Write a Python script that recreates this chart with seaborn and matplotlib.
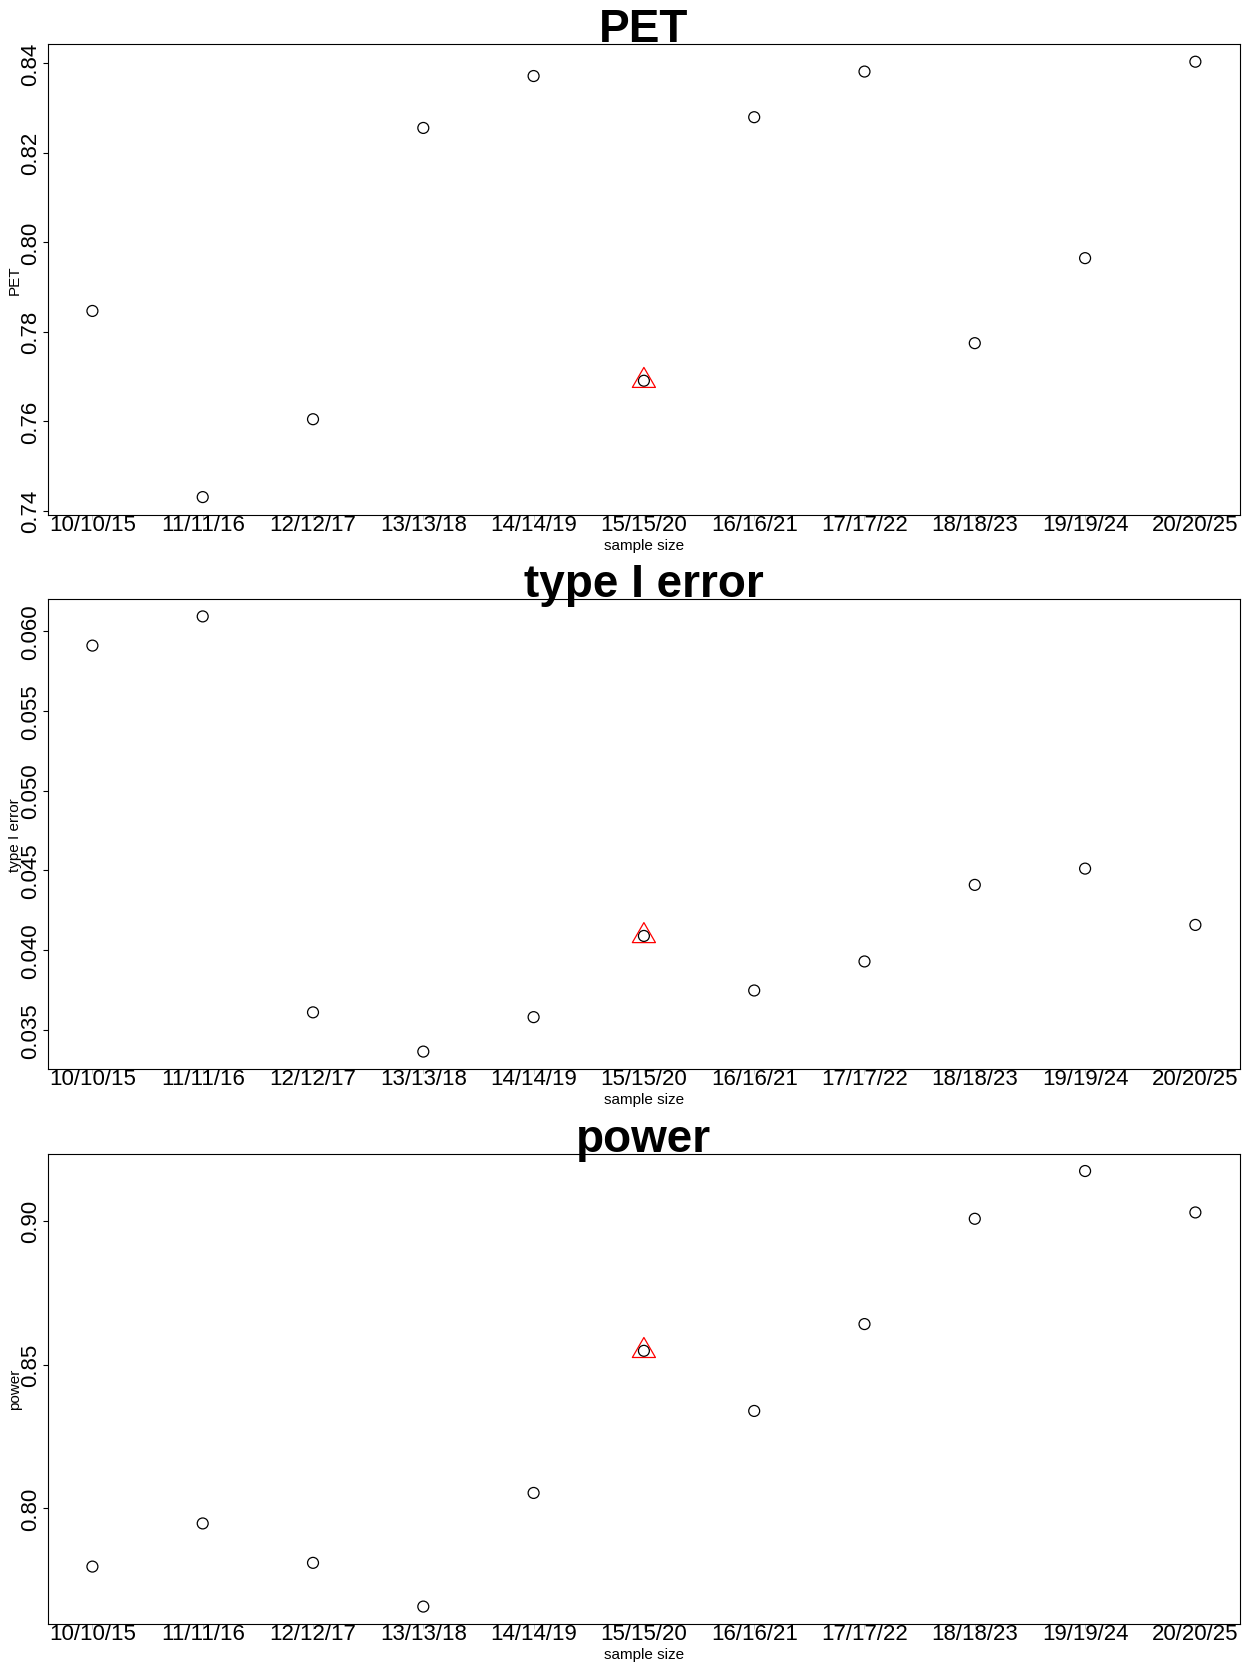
import numpy as np
import pandas as pd
import matplotlib
matplotlib.use("Agg")
import matplotlib.pyplot as plt
from matplotlib.path import Path
from matplotlib.ticker import FixedLocator, FormatStrFormatter
import seaborn as sns

# ---- data -------------------------------------------------------------
sample_sizes = ["10/10/15", "11/11/16", "12/12/17", "13/13/18", "14/14/19",
                "15/15/20", "16/16/21", "17/17/22", "18/18/23", "19/19/24",
                "20/20/25"]

pet = [0.7846, 0.7430, 0.7604, 0.8255, 0.8371, 0.7690,
       0.8279, 0.8381, 0.7774, 0.7964, 0.8403]

type1_error = [0.05909, 0.06092, 0.03610, 0.03364, 0.03580, 0.04089,
               0.03747, 0.03929, 0.04409, 0.04511, 0.04158]

power = [0.7798, 0.7948, 0.7811, 0.7659, 0.8054, 0.8548,
         0.8339, 0.8641, 0.9007, 0.9173, 0.9029]

chosen_index = 5  # design highlighted with a triangle

pet_ticks = [0.74, 0.76, 0.78, 0.80, 0.82, 0.84]
type1_ticks = [0.035, 0.040, 0.045, 0.050, 0.055, 0.060]
power_ticks = [0.80, 0.85, 0.90]

panels = [
    ("PET", pet, pet_ticks, "%.2f"),
    ("type I error", type1_error, type1_ticks, "%.3f"),
    ("power", power, power_ticks, "%.2f"),
]

# ---- style ------------------------------------------------------------
sns.set_theme(style="white")
plt.rcParams["font.family"] = ["Liberation Sans", "DejaVu Sans"]
plt.rcParams["axes.edgecolor"] = "black"
plt.rcParams["axes.linewidth"] = 0.8

W, H = 1252, 1665
fig = plt.figure(figsize=(W / 100, H / 100), dpi=100)

# axes boxes in pixels: (left, top, right, bottom)
boxes = [(48.3, 45.3, 1239.5, 515.5),
         (48.3, 600.0, 1239.5, 1070.0),
         (48.3, 1154.6, 1239.5, 1625.0)]

# R-style triangle (centroid on the data point)
tri = Path([(0, 1), (-0.866, -0.5), (0.866, -0.5), (0, 1)],
           [Path.MOVETO, Path.LINETO, Path.LINETO, Path.CLOSEPOLY])

x_pos = np.arange(1, len(sample_sizes) + 1)

for (name, values, ticks, fmt), (l, t, r, b) in zip(panels, boxes):
    ax = fig.add_axes([l / W, 1 - b / H, (r - l) / W, (b - t) / H])
    df = pd.DataFrame({"pos": x_pos, "value": values})

    sns.scatterplot(data=df, x="pos", y="value", ax=ax, marker="o",
                    s=62, color="none", edgecolor="black", linewidth=0.9,
                    zorder=3)
    hi = df.iloc[[chosen_index]]
    sns.scatterplot(data=hi, x="pos", y="value", ax=ax, marker=tri,
                    s=19.2 ** 2, color="none", edgecolor="red",
                    linewidth=0.9, zorder=4)

    # R-like 4% padding around data range
    lo, hi_v = min(values), max(values)
    pad = 0.04 * (hi_v - lo)
    ax.set_ylim(lo - pad, hi_v + pad)
    pad_x = 0.04 * (x_pos[-1] - x_pos[0])
    ax.set_xlim(x_pos[0] - pad_x, x_pos[-1] + pad_x)

    ax.xaxis.set_major_locator(FixedLocator(x_pos))
    ax.set_xticklabels(sample_sizes)
    ax.yaxis.set_major_locator(FixedLocator(ticks))
    ax.yaxis.set_major_formatter(FormatStrFormatter(fmt))

    ax.tick_params(axis="y", which="major", left=True, length=3.6,
                   width=0.8, color="black", labelsize=16, pad=1.5,
                   labelrotation=90, labelcolor="black")
    ax.tick_params(axis="x", which="major", bottom=True, length=3.6,
                   width=0.6, color="#bbbbbb", labelsize=16, pad=-4,
                   labelcolor="black")
    for lab in ax.get_yticklabels():
        lab.set_va("center")

    for sp in ax.spines.values():
        sp.set_visible(True)
        sp.set_color("black")
        sp.set_linewidth(0.8)

    ax.set_title(name, fontsize=33, fontweight="bold", pad=2.2,
                 color="black")
    ax.set_xlabel("sample size", fontsize=11, color="black")
    ax.xaxis.set_label_coords(0.5, -30.5 / (b - t))
    ax.xaxis.label.set_va("center")
    ax.set_ylabel(name, fontsize=11, color="black")
    ax.yaxis.set_label_coords(-(l - 15) / (r - l), 0.5)
    ax.yaxis.label.set_va("center")

fig.savefig("out.png", dpi=100, facecolor="white")
